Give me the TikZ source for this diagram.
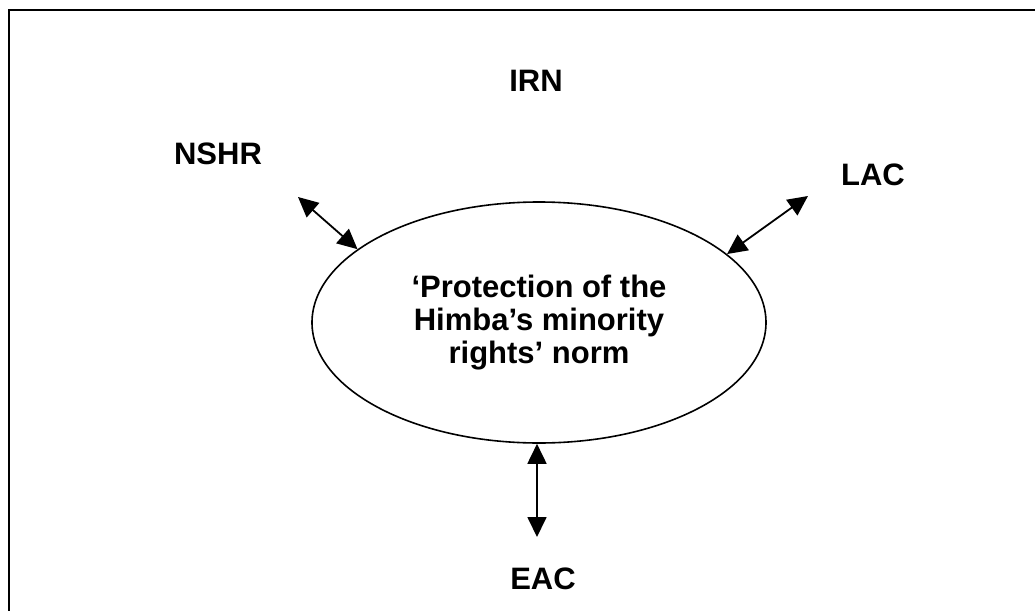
\documentclass[tikz,border=0pt]{standalone}
\usepackage{fontspec}
\setmainfont{Liberation Sans}
\usetikzlibrary{arrows.meta,positioning,shapes.geometric}

\begin{document}
\begin{tikzpicture}[
    x=0.5pt, y=-0.5pt,
    >={Triangle[length=10pt,width=9.5pt]},
    actor/.style={font=\bfseries\fontsize{15.5}{16.5}\selectfont, inner sep=0pt},
    normshape/.style={ellipse, draw, line width=0.8pt, minimum width=227pt, minimum height=120.5pt,
        inner sep=0pt, align=center, font=\bfseries\fontsize{15.5}{16.5}\selectfont},
    link/.style={<->, line width=0.9pt}
]

% --- 1. frame (cut off at right and bottom) ---
\useasboundingbox (0,0) rectangle (1035,611);
\draw[line width=1pt] (1035,10) -- (9,10) -- (9,611);

% --- 2. the norm ---
\node[normshape] (norm) at (539,322.5) {`Protection of the\\Himba's minority\\rights' norm};

% --- 3. actors ---
\node[actor] (irn)  at (536,81)  {IRN};
\node[actor] (nshr) at (218,154) {NSHR};
\node[actor] (lac)  at (873,175) {LAC};
\node[actor] (eac)  at (543,579) {EAC};

% free ends of the arrows
\coordinate (nshr end) at (298,197);
\coordinate (lac end)  at (808,196);
\coordinate (eac end)  at (537,537);

% --- 4. arrows ---
\draw[link] (nshr end) -- (norm.158);
\draw[link] (lac end) -- (norm.20);
\draw[link] (norm.south -| eac end) -- (eac end);

\end{tikzpicture}
\end{document}
